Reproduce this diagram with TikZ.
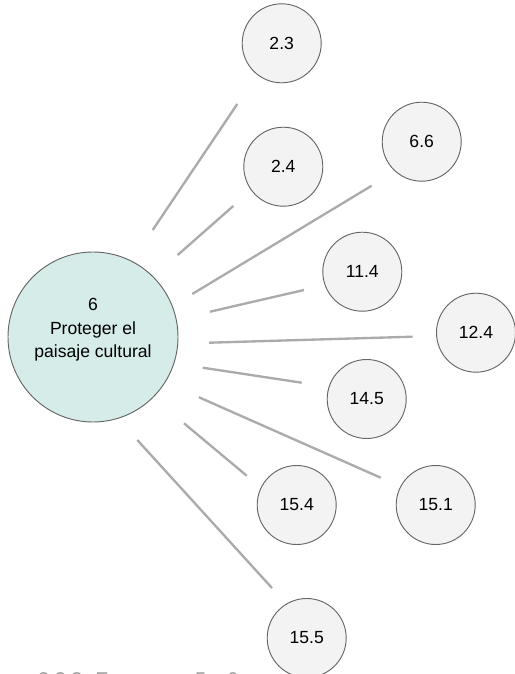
\documentclass[tikz,border=0pt]{standalone}
\usepackage{fontspec}
\setmainfont{Liberation Sans}
\usepackage{tikz}

\definecolor{tealfill}{HTML}{D5ECE9}
\definecolor{dotfill}{HTML}{F3F3F3}
\definecolor{rimgray}{HTML}{666666}
\definecolor{linkgray}{HTML}{ABABAB}

\tikzset{
  goal/.style={circle, draw=rimgray, line width=0.8pt, fill=tealfill,
    minimum size=5.1cm, inner sep=0pt},
  goaltext/.style={align=center, inner sep=0pt,
    font=\fontsize{15}{20}\selectfont},
  target/.style={circle, draw=rimgray, line width=0.8pt, fill=dotfill,
    minimum size=2.37cm, inner sep=0pt,
    font=\fontsize{15}{18}\selectfont},
  link/.style={draw=linkgray, line width=2pt},
  caption/.style={text=gray!80, inner sep=0pt, font=\fontsize{17}{20}\selectfont}
}

\begin{document}
\begin{tikzpicture}[x=0.03cm, y=-0.03cm]

   \useasboundingbox (0,0) rectangle (515,674);

   \node[goal] (g6) at (93,337) {};
   \node[goaltext] (g6text) at ([yshift=6pt]g6.center) {6\\Proteger el\\paisaje cultural};

   \foreach \n/\x/\y/\t in {23/281.7/43.3/2.3, 24/283.3/166.7/2.4, 66/421.7/141.7/6.6,
                            114/362.3/271.7/11.4, 124/476/332.7/12.4, 145/366.7/399/14.5,
                            151/435.7/505/15.1, 154/296.7/505/15.4, 155/306.7/638/15.5}
   {
      \node[target] (t\n) at (\x,\y) {\t};
   }

   % the lines stop short of both circles
   \foreach \n/\ax/\ay/\bx/\by in {23/152.7/230/237.3/104,
                                   24/177.7/255/233.3/206,
                                   66/192.3/294/371.7/185.7,
                                   114/210/311.7/304/290,
                                   124/209/342.7/412.7/336.7,
                                   145/202.7/367.7/301.7/382.7,
                                   151/199/397.3/380.7/477.7,
                                   154/184/423.3/246.7/475.7,
                                   155/137.3/440/272/588}
   {
      \coordinate (s\n) at (\ax,\ay);
      \coordinate (e\n) at (\bx,\by);
      \draw[link] (s\n) -- (e\n);
   }

   % caption, cut by the lower edge
   \node[caption, anchor=base west] (capnum) at (38,686) {2.2.3. Esquemas 5 y 6};
   \node[caption, anchor=base east] (capword) at (33,686) {Figura};

\end{tikzpicture}
\end{document}
